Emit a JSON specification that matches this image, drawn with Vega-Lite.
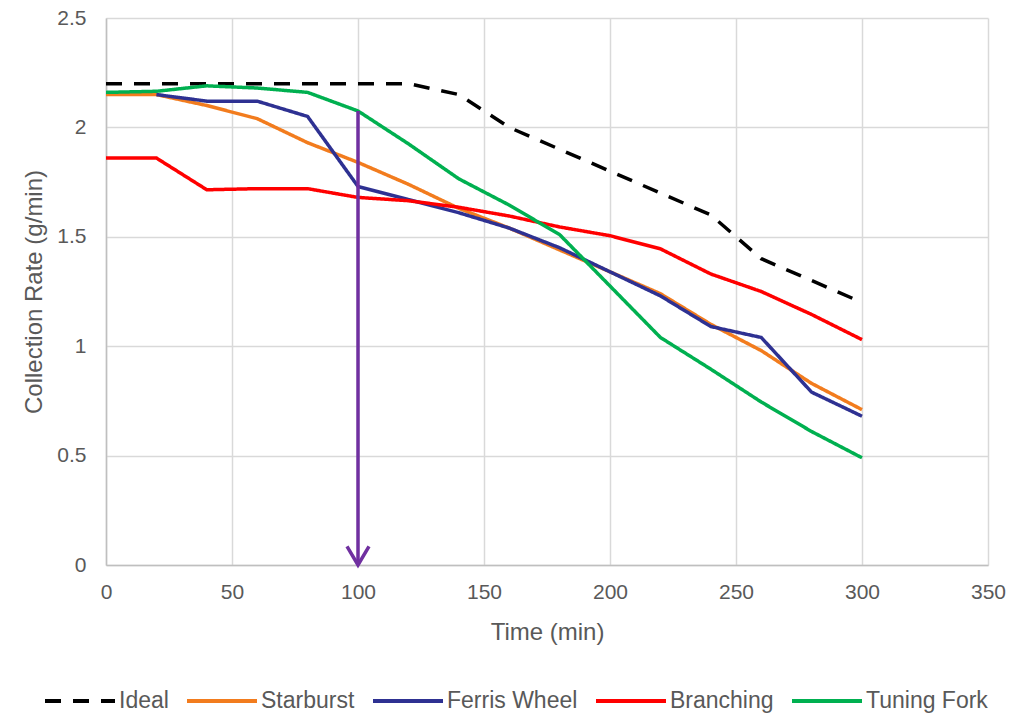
{
  "$schema": "https://vega.github.io/schema/vega-lite/v6.json",
  "autosize": {"type": "none"},
  "width": 882,
  "height": 547,
  "padding": {"left": 106, "top": 18, "right": 33, "bottom": 149},
  "background": "white",
  "config": {
    "font": "Liberation Sans",
    "view": {"stroke": null},
    "axis": {
      "labelFont": "Liberation Sans",
      "labelFontSize": 21,
      "labelColor": "#595959",
      "titleFont": "Liberation Sans",
      "titleFontSize": 24,
      "titleFontWeight": "normal",
      "titleColor": "#595959",
      "gridColor": "#d9d9d9",
      "gridWidth": 1.5,
      "domainColor": "#bfbfbf",
      "domainWidth": 1.5,
      "ticks": false,
      "labelFlush": false
    },
    "legend": {
      "orient": "none",
      "direction": "horizontal",
      "legendX": -63,
      "legendY": 646,
      "symbolType": "stroke",
      "symbolSize": 4900,
      "symbolStrokeWidth": 4,
      "labelFont": "Liberation Sans",
      "labelFontSize": 23,
      "labelColor": "#595959",
      "labelOffset": 2,
      "columnPadding": 10,
      "labelLimit": 300
    }
  },
  "datasets": {
    "lines": [
      {"series": "Ideal", "time": 0, "rate": 2.2},
      {"series": "Ideal", "time": 20, "rate": 2.2},
      {"series": "Ideal", "time": 40, "rate": 2.2},
      {"series": "Ideal", "time": 60, "rate": 2.2},
      {"series": "Ideal", "time": 80, "rate": 2.2},
      {"series": "Ideal", "time": 100, "rate": 2.2},
      {"series": "Ideal", "time": 120, "rate": 2.2},
      {"series": "Ideal", "time": 140, "rate": 2.15},
      {"series": "Ideal", "time": 160, "rate": 2.0},
      {"series": "Ideal", "time": 180, "rate": 1.9},
      {"series": "Ideal", "time": 200, "rate": 1.8},
      {"series": "Ideal", "time": 220, "rate": 1.7},
      {"series": "Ideal", "time": 240, "rate": 1.6},
      {"series": "Ideal", "time": 260, "rate": 1.4},
      {"series": "Ideal", "time": 280, "rate": 1.3},
      {"series": "Ideal", "time": 300, "rate": 1.2},
      {"series": "Starburst", "time": 0, "rate": 2.15},
      {"series": "Starburst", "time": 20, "rate": 2.15},
      {"series": "Starburst", "time": 40, "rate": 2.10},
      {"series": "Starburst", "time": 60, "rate": 2.04},
      {"series": "Starburst", "time": 80, "rate": 1.93},
      {"series": "Starburst", "time": 100, "rate": 1.84},
      {"series": "Starburst", "time": 120, "rate": 1.74},
      {"series": "Starburst", "time": 140, "rate": 1.63},
      {"series": "Starburst", "time": 160, "rate": 1.54},
      {"series": "Starburst", "time": 180, "rate": 1.44},
      {"series": "Starburst", "time": 200, "rate": 1.34},
      {"series": "Starburst", "time": 220, "rate": 1.24},
      {"series": "Starburst", "time": 240, "rate": 1.10},
      {"series": "Starburst", "time": 260, "rate": 0.98},
      {"series": "Starburst", "time": 280, "rate": 0.83},
      {"series": "Starburst", "time": 300, "rate": 0.71},
      {"series": "Ferris Wheel", "time": 20, "rate": 2.15},
      {"series": "Ferris Wheel", "time": 40, "rate": 2.12},
      {"series": "Ferris Wheel", "time": 60, "rate": 2.12},
      {"series": "Ferris Wheel", "time": 80, "rate": 2.05},
      {"series": "Ferris Wheel", "time": 100, "rate": 1.73},
      {"series": "Ferris Wheel", "time": 120, "rate": 1.67},
      {"series": "Ferris Wheel", "time": 140, "rate": 1.61},
      {"series": "Ferris Wheel", "time": 160, "rate": 1.54},
      {"series": "Ferris Wheel", "time": 180, "rate": 1.45},
      {"series": "Ferris Wheel", "time": 200, "rate": 1.34},
      {"series": "Ferris Wheel", "time": 220, "rate": 1.23},
      {"series": "Ferris Wheel", "time": 240, "rate": 1.09},
      {"series": "Ferris Wheel", "time": 260, "rate": 1.04},
      {"series": "Ferris Wheel", "time": 280, "rate": 0.79},
      {"series": "Ferris Wheel", "time": 300, "rate": 0.68},
      {"series": "Branching", "time": 0, "rate": 1.86},
      {"series": "Branching", "time": 20, "rate": 1.86},
      {"series": "Branching", "time": 40, "rate": 1.715},
      {"series": "Branching", "time": 60, "rate": 1.72},
      {"series": "Branching", "time": 80, "rate": 1.72},
      {"series": "Branching", "time": 100, "rate": 1.68},
      {"series": "Branching", "time": 120, "rate": 1.665},
      {"series": "Branching", "time": 140, "rate": 1.635},
      {"series": "Branching", "time": 160, "rate": 1.595},
      {"series": "Branching", "time": 180, "rate": 1.545},
      {"series": "Branching", "time": 200, "rate": 1.505},
      {"series": "Branching", "time": 220, "rate": 1.445},
      {"series": "Branching", "time": 240, "rate": 1.33},
      {"series": "Branching", "time": 260, "rate": 1.25},
      {"series": "Branching", "time": 280, "rate": 1.145},
      {"series": "Branching", "time": 300, "rate": 1.03},
      {"series": "Tuning Fork", "time": 0, "rate": 2.16},
      {"series": "Tuning Fork", "time": 20, "rate": 2.165},
      {"series": "Tuning Fork", "time": 40, "rate": 2.19},
      {"series": "Tuning Fork", "time": 60, "rate": 2.18},
      {"series": "Tuning Fork", "time": 80, "rate": 2.16},
      {"series": "Tuning Fork", "time": 100, "rate": 2.075},
      {"series": "Tuning Fork", "time": 120, "rate": 1.925},
      {"series": "Tuning Fork", "time": 140, "rate": 1.765},
      {"series": "Tuning Fork", "time": 160, "rate": 1.645},
      {"series": "Tuning Fork", "time": 180, "rate": 1.51},
      {"series": "Tuning Fork", "time": 200, "rate": 1.275},
      {"series": "Tuning Fork", "time": 220, "rate": 1.04},
      {"series": "Tuning Fork", "time": 240, "rate": 0.895},
      {"series": "Tuning Fork", "time": 260, "rate": 0.745},
      {"series": "Tuning Fork", "time": 280, "rate": 0.61},
      {"series": "Tuning Fork", "time": 300, "rate": 0.49}
    ],
    "arrow": [
      {"time": 100, "top": 2.075, "bottom": 0}
    ]
  },
  "layer": [
    {
      "data": {"name": "lines"},
      "mark": {"type": "line", "strokeWidth": 3.5, "strokeCap": "butt"},
      "encoding": {
        "x": {
          "field": "time", "type": "quantitative",
          "scale": {"domain": [0, 350], "nice": false, "zero": false},
          "axis": {"title": "Time (min)", "values": [0, 50, 100, 150, 200, 250, 300, 350], "grid": true, "labelPadding": 16, "titlePadding": 18}
        },
        "y": {
          "field": "rate", "type": "quantitative",
          "scale": {"domain": [0, 2.5], "nice": false},
          "axis": {"title": "Collection Rate (g/min)", "values": [0, 0.5, 1, 1.5, 2, 2.5], "format": "~g", "grid": true, "labelPadding": 20, "titlePadding": 10}
        },
        "color": {
          "field": "series", "type": "nominal",
          "scale": {
            "domain": ["Ideal", "Starburst", "Ferris Wheel", "Branching", "Tuning Fork"],
            "range": ["#000000", "#F27C1E", "#2E3192", "#FF0000", "#00B050"]
          },
          "legend": {"title": null}
        },
        "strokeDash": {
          "field": "series", "type": "nominal",
          "scale": {
            "domain": ["Ideal", "Starburst", "Ferris Wheel", "Branching", "Tuning Fork"],
            "range": [[16, 12], [1, 0], [1, 0], [1, 0], [1, 0]]
          },
          "legend": {"title": null}
        }
      }
    },
    {
      "data": {"name": "arrow"},
      "mark": {"type": "rule", "color": "#7030A0", "strokeWidth": 3.5},
      "encoding": {
        "x": {"field": "time", "type": "quantitative"},
        "y": {"field": "top", "type": "quantitative"},
        "y2": {"field": "bottom"}
      }
    },
    {
      "data": {"name": "arrow"},
      "mark": {"type": "point", "shape": "M-1,-1.7L0,0L1,-1.7", "filled": false, "stroke": "#7030A0", "strokeWidth": 3.5, "size": 484, "opacity": 1, "strokeJoin": "miter"},
      "encoding": {
        "x": {"field": "time", "type": "quantitative"},
        "y": {"field": "bottom", "type": "quantitative"}
      }
    }
  ]
}
